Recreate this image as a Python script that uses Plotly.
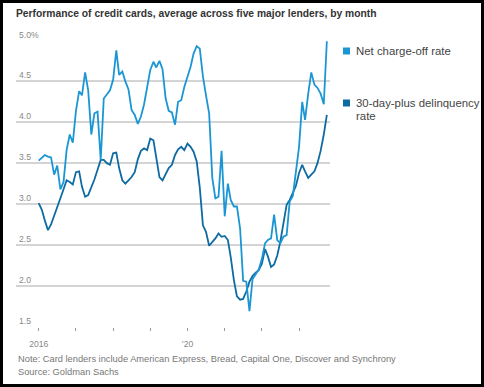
import pandas as pd
import plotly.graph_objects as go

# ---------------- data ----------------
months = pd.date_range("2016-01-01", "2023-10-01", freq="MS")

net_charge_off = [
    3.53, 3.57, 3.60, 3.58, 3.57, 3.36, 3.47, 3.18, 3.27, 3.66, 3.85, 3.75,
    4.14, 4.38, 4.33, 4.61, 4.39, 3.85, 4.11, 4.13, 3.54, 4.29, 4.34, 4.39,
    4.52, 4.88, 4.58, 4.62, 4.50, 4.40, 4.15, 4.09, 3.98, 4.07, 4.22, 4.45,
    4.64, 4.74, 4.67, 4.75, 4.65, 4.29, 4.14, 4.12, 3.97, 4.25, 4.27, 4.43,
    4.55, 4.68, 4.84, 4.93, 4.90, 4.56, 4.33, 4.11, 3.32, 3.07, 3.09, 3.65,
    2.85, 3.25, 3.05, 2.97, 2.97, 2.70, 2.06, 2.05, 1.69, 2.08, 2.14, 2.20,
    2.33, 2.52, 2.56, 2.58, 2.87, 2.56, 2.52, 2.60, 2.62, 3.03, 3.10, 3.40,
    3.70, 4.25, 4.03, 4.35, 4.61, 4.46, 4.42, 4.35, 4.22, 4.99,
]

delinquency_30plus = [
    3.01, 2.93, 2.80, 2.68, 2.75, 2.85, 2.96, 3.07, 3.18, 3.29, 3.27, 3.24,
    3.39, 3.40, 3.21, 3.09, 3.11, 3.20, 3.30, 3.42, 3.54, 3.54, 3.50, 3.48,
    3.62, 3.63, 3.44, 3.29, 3.25, 3.29, 3.33, 3.39, 3.55, 3.65, 3.68, 3.66,
    3.80, 3.78, 3.55, 3.33, 3.29, 3.36, 3.44, 3.48, 3.60, 3.67, 3.70, 3.66,
    3.74, 3.70, 3.64, 3.52, 3.20, 2.74, 2.66, 2.49, 2.53, 2.58, 2.64, 2.60,
    2.61, 2.56, 2.35, 2.07, 1.87, 1.83, 1.84, 1.93, 2.05, 2.12, 2.16, 2.19,
    2.27, 2.45, 2.36, 2.23, 2.26, 2.37, 2.54, 2.75, 2.99, 3.05, 3.13, 3.22,
    3.38, 3.48, 3.40, 3.32, 3.36, 3.40, 3.50, 3.65, 3.85, 4.09,
]

y_tickvals = [1.5, 2.0, 2.5, 3.0, 3.5, 4.0, 4.5, 5.0]
y_ticktext = ["1.5", "2.0", "2.5", "3.0", "3.5", "4.0", "4.5", "5.0%"]
x_tickvals = ["2016-01-01", "2017-01-01", "2018-01-01", "2019-01-01",
              "2020-01-01", "2021-01-01", "2022-01-01", "2023-01-01"]
x_ticktext = ["2016", "", "", "", "\u201920", "", "", ""]

series_names = ["Net charge-off rate", "30-day-plus delinquency rate"]

title_text = "Performance of credit cards, average across five major lenders, by month"
note_text = "Note: Card lenders include American Express, Bread, Capital One, Discover and Synchrony"
source_text = "Source: Goldman Sachs"

# ---------------- style ----------------
W, H = 484, 387
ML, MR, MT, MB = 16, 154, 40, 60
PW, PH = W - ML - MR, H - MT - MB
X_RANGE = ["2015-05-23", "2023-11-01"]
C_NCO = "#1b96d4"
C_DEL = "#0e6aa2"
C_GRID = "#d4d4d4"
FONT = "Liberation Sans, Arial, sans-serif"


def px_x(x):
    return (x - ML) / PW


def px_y(y):
    return (H - MB - y) / PH


fig = go.Figure()
fig.add_trace(go.Scatter(x=months, y=delinquency_30plus, mode="lines",
                         name=series_names[1],
                         line=dict(color=C_DEL, width=1.8), showlegend=False))
fig.add_trace(go.Scatter(x=months, y=net_charge_off, mode="lines",
                         name=series_names[0],
                         line=dict(color=C_NCO, width=1.8), showlegend=False))

fig.update_layout(
    width=W, height=H,
    margin=dict(l=ML, r=MR, t=MT, b=MB, pad=0),
    paper_bgcolor="white", plot_bgcolor="white",
    font=dict(family=FONT, color="#777777", size=9),
    title=dict(text="<b>" + title_text + "</b>", x=16 / W, xref="container",
               xanchor="left", y=1 - 13 / H, yref="container", yanchor="middle",
               font=dict(family=FONT, size=10.3, color="#333333")),
    showlegend=False,
)

fig.update_yaxes(
    range=[1.4963, 5.006], tickvals=y_tickvals, ticktext=y_ticktext,
    showgrid=True, gridcolor=C_GRID, gridwidth=1.6,
    zeroline=False, showline=False, ticks="",
    ticklabelposition="inside", ticklabelshift=-6, ticklabelstandoff=0,
    ticklabeloverflow="allow",
    tickfont=dict(family=FONT, size=8.6, color="#888888"),
)
fig.update_xaxes(
    type="date", range=X_RANGE,
    tickvals=x_tickvals, ticktext=x_ticktext,
    showgrid=False, zeroline=False, showline=False,
    ticks="outside", ticklen=3, tickwidth=1, tickcolor="#999999",
    ticklabelstandoff=6,
    tickfont=dict(family=FONT, size=8.6, color="#888888"),
)

shapes = []
# legend keys
for yc, col in [(51, C_NCO), (103, C_DEL)]:
    shapes.append(dict(type="rect", xref="paper", yref="paper",
                       x0=px_x(343), x1=px_x(350), y0=px_y(yc - 3.5), y1=px_y(yc + 3.5),
                       fillcolor=col, line=dict(width=0)))
# outer frame
shapes.append(dict(type="rect", xref="paper", yref="paper",
                   x0=px_x(1.5), x1=px_x(W - 1.5), y0=px_y(H - 1.5), y1=px_y(1.5),
                   line=dict(color="black", width=3), fillcolor="rgba(0,0,0,0)"))
fig.update_layout(shapes=shapes)

ann = []
leg_font = dict(family=FONT, size=11.4, color="#444444")
ann.append(dict(text=series_names[0], x=px_x(354), y=px_y(51), xref="paper", yref="paper",
                xanchor="left", yanchor="middle", showarrow=False, font=leg_font))
ann.append(dict(text="30-day-plus delinquency", x=px_x(354), y=px_y(103), xref="paper",
                yref="paper", xanchor="left", yanchor="middle", showarrow=False, font=leg_font))
ann.append(dict(text="rate", x=px_x(354), y=px_y(116), xref="paper", yref="paper",
                xanchor="left", yanchor="middle", showarrow=False, font=leg_font))
foot_font = dict(family=FONT, size=9.3, color="#777777")
ann.append(dict(text=note_text, x=px_x(16), y=px_y(359), xref="paper", yref="paper",
                xanchor="left", yanchor="middle", showarrow=False, font=foot_font))
ann.append(dict(text=source_text, x=px_x(16), y=px_y(372), xref="paper", yref="paper",
                xanchor="left", yanchor="middle", showarrow=False, font=foot_font))
fig.update_layout(annotations=ann)

fig.write_html("out.html", config={"displayModeBar": False},
               post_script="document.body.style.margin='0';document.body.style.padding='0';")
